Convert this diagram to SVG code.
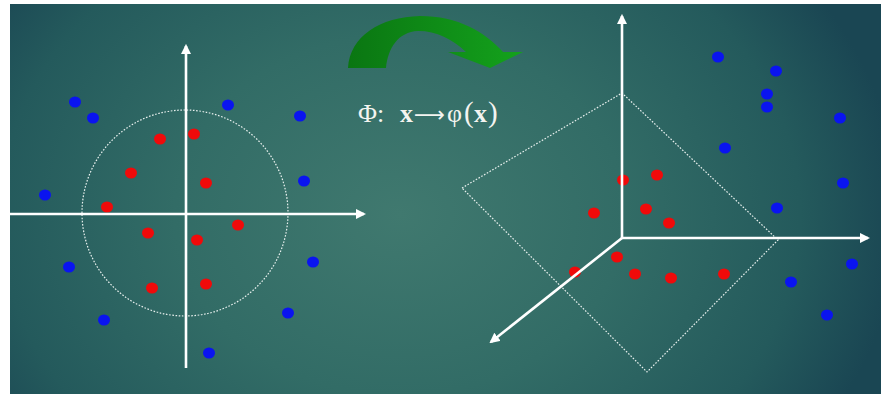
<svg xmlns="http://www.w3.org/2000/svg" width="881" height="394" viewBox="0 0 881 394">
<style>
.axis{stroke:#ffffff;stroke-width:2.6;fill:none}
.dot-line{stroke:#e8f0ee;stroke-width:1.2;fill:none;stroke-dasharray:1.6 1.6}
.r{fill:#f00a0a}
.b{fill:#0a14f0}
.lbl{font-family:"Liberation Serif","DejaVu Serif",serif;font-size:26px;fill:#f4f4f0}
</style>
<defs>
<radialGradient id="bg" gradientUnits="userSpaceOnUse" cx="400" cy="215" r="500" gradientTransform="translate(400 215) scale(1 0.8) translate(-400 -215)">
<stop offset="0" stop-color="#40796f"/>
<stop offset="0.45" stop-color="#326c66"/>
<stop offset="0.8" stop-color="#245a5c"/>
<stop offset="1" stop-color="#1a4653"/>
</radialGradient>
<linearGradient id="green" x1="0" y1="0" x2="1" y2="0">
<stop offset="0" stop-color="#0a7612"/>
<stop offset="1" stop-color="#14a21c"/>
</linearGradient>
<marker id="ah" viewBox="0 0 10 10" refX="8" refY="5" markerWidth="4" markerHeight="4" orient="auto" markerUnits="strokeWidth">
<path d="M0,0 L10,5 L0,10 Z" fill="#ffffff"/>
</marker>
</defs>
<rect x="0" y="0" width="881" height="394" fill="#ffffff"/>
<rect x="10" y="4" width="871" height="390" fill="url(#bg)"/>

<g id="left-plot">
<circle class="dot-line" cx="185" cy="213" r="103"/>
<g id="left-red">
<ellipse class="r" cx="160" cy="139" rx="6" ry="5.5"/>
<ellipse class="r" cx="194" cy="134" rx="6" ry="5.5"/>
<ellipse class="r" cx="131" cy="173" rx="6" ry="5.5"/>
<ellipse class="r" cx="206" cy="183" rx="6" ry="5.5"/>
<ellipse class="r" cx="107" cy="207" rx="6" ry="5.5"/>
<ellipse class="r" cx="148" cy="233" rx="6" ry="5.5"/>
<ellipse class="r" cx="238" cy="225" rx="6" ry="5.5"/>
<ellipse class="r" cx="197" cy="240" rx="6" ry="5.5"/>
<ellipse class="r" cx="152" cy="288" rx="6" ry="5.5"/>
<ellipse class="r" cx="206" cy="284" rx="6" ry="5.5"/>
</g>
<g id="left-blue">
<ellipse class="b" cx="75" cy="102" rx="6" ry="5.5"/>
<ellipse class="b" cx="93" cy="118" rx="6" ry="5.5"/>
<ellipse class="b" cx="228" cy="105" rx="6" ry="5.5"/>
<ellipse class="b" cx="300" cy="116" rx="6" ry="5.5"/>
<ellipse class="b" cx="45" cy="195" rx="6" ry="5.5"/>
<ellipse class="b" cx="304" cy="181" rx="6" ry="5.5"/>
<ellipse class="b" cx="69" cy="267" rx="6" ry="5.5"/>
<ellipse class="b" cx="313" cy="262" rx="6" ry="5.5"/>
<ellipse class="b" cx="104" cy="320" rx="6" ry="5.5"/>
<ellipse class="b" cx="288" cy="313" rx="6" ry="5.5"/>
<ellipse class="b" cx="209" cy="353" rx="6" ry="5.5"/>
</g>
</g>

<g id="mapping">
<path fill="url(#green)" d="M348,68 C350,36 380,17 420,16 C458,16 485,32 503,52 L523,52 L490,68 L448,52 L466,52 C452,39 437,31 418,31 C398,32 388,48 386,68 Z"/>
<text class="lbl" y="122"><tspan x="358">Φ:</tspan><tspan x="400" font-weight="bold">x</tspan><tspan x="414" font-family="DejaVu Sans" font-size="22" textLength="31" lengthAdjust="spacingAndGlyphs">⟶</tspan><tspan x="447">φ</tspan><tspan x="464" font-size="29">(</tspan><tspan x="474" font-weight="bold">x</tspan><tspan x="488" font-size="29">)</tspan></text>
</g>

<g id="right-plot">
<polygon class="dot-line" points="462,188 622,93 778,240 647,372"/>
<g id="right-red">
<ellipse class="r" cx="623" cy="180" rx="6" ry="5.5"/>
<ellipse class="r" cx="657" cy="175" rx="6" ry="5.5"/>
<ellipse class="r" cx="594" cy="213" rx="6" ry="5.5"/>
<ellipse class="r" cx="646" cy="209" rx="6" ry="5.5"/>
<ellipse class="r" cx="669" cy="223" rx="6" ry="5.5"/>
<ellipse class="r" cx="617" cy="257" rx="6" ry="5.5"/>
<ellipse class="r" cx="575" cy="272" rx="6" ry="5.5"/>
<ellipse class="r" cx="635" cy="274" rx="6" ry="5.5"/>
<ellipse class="r" cx="671" cy="278" rx="6" ry="5.5"/>
<ellipse class="r" cx="724" cy="274" rx="6" ry="5.5"/>
</g>
<g id="right-blue">
<ellipse class="b" cx="718" cy="57" rx="6" ry="5.5"/>
<ellipse class="b" cx="776" cy="71" rx="6" ry="5.5"/>
<ellipse class="b" cx="767" cy="94" rx="6" ry="5.5"/>
<ellipse class="b" cx="767" cy="107" rx="6" ry="5.5"/>
<ellipse class="b" cx="840" cy="118" rx="6" ry="5.5"/>
<ellipse class="b" cx="725" cy="148" rx="6" ry="5.5"/>
<ellipse class="b" cx="843" cy="183" rx="6" ry="5.5"/>
<ellipse class="b" cx="777" cy="208" rx="6" ry="5.5"/>
<ellipse class="b" cx="852" cy="264" rx="6" ry="5.5"/>
<ellipse class="b" cx="791" cy="282" rx="6" ry="5.5"/>
<ellipse class="b" cx="827" cy="315" rx="6" ry="5.5"/>
</g>
</g>

<g id="connectors">
<line class="axis" x1="186" y1="368" x2="186" y2="46" marker-end="url(#ah)"/>
<line class="axis" x1="10" y1="214" x2="364" y2="214" marker-end="url(#ah)"/>
<line class="axis" x1="622" y1="238" x2="622" y2="16" marker-end="url(#ah)"/>
<line class="axis" x1="621" y1="238" x2="868" y2="238" marker-end="url(#ah)"/>
<line class="axis" x1="622" y1="238" x2="491" y2="342" marker-end="url(#ah)"/>
</g>
</svg>
